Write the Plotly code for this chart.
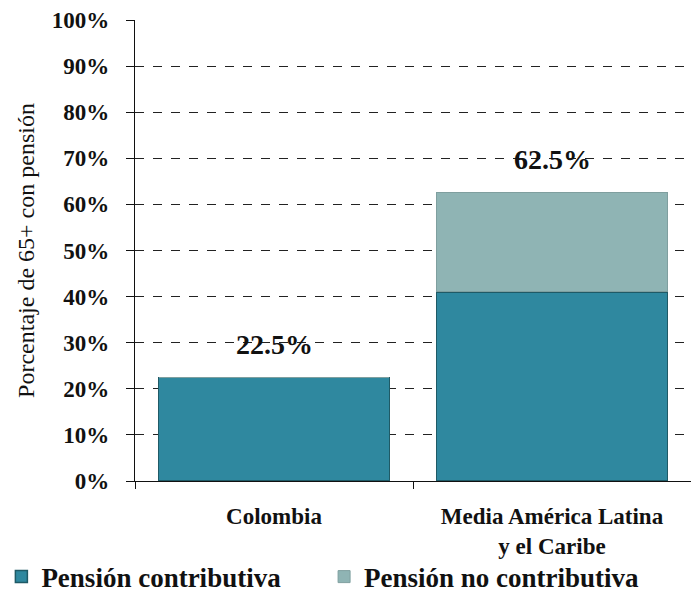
import plotly.graph_objects as go

categories = ["Colombia", "Media América Latina<br>y el Caribe"]
contributiva = [22.5, 41.0]
no_contributiva = [0.0, 21.5]
totals = [22.5, 62.5]
total_labels = ["22.5%", "62.5%"]
y_ticks = list(range(0, 101, 10))
y_tick_labels = [f"{v}%" for v in y_ticks]

serif = "Liberation Serif"
bold = dict(family=serif, color="#111111", weight=700)

fig = go.Figure()
fig.add_trace(go.Bar(
    x=categories, y=contributiva, name="Pensión contributiva",
    marker=dict(color="#2f889f", line=dict(color="#1f5a66", width=1.5)),
    width=0.83, legend="legend",
))
fig.add_trace(go.Bar(
    x=categories, y=no_contributiva, name="Pensión no contributiva",
    marker=dict(color="#8fb4b4", line=dict(color="#7f9f9f", width=1)),
    width=0.83, legend="legend2",
))

for cat, tot, lab in zip(categories, totals, total_labels):
    fig.add_annotation(
        x=cat, y=tot, text=lab, showarrow=False, yanchor="middle", yshift=33,
        font=dict(size=28, **bold),
    )

# one legend box per series so each entry sits at its own place along the bottom
legend_common = dict(
    orientation="h", xanchor="left", xref="container",
    y=0.035, yanchor="middle", yref="container",
    font=dict(size=27, **bold), itemwidth=30, bgcolor="rgba(0,0,0,0)",
)

fig.update_layout(
    barmode="stack",
    width=691, height=598,
    margin=dict(l=135, r=0, t=20, b=117, autoexpand=False),
    plot_bgcolor="white", paper_bgcolor="white",
    font=dict(family=serif, color="#111111"),
    legend=dict(x=0.002, **legend_common),
    legend2=dict(x=0.469, **legend_common),
    showlegend=True,
)

fig.update_yaxes(
    range=[0, 100], tickvals=y_ticks, ticktext=y_tick_labels,
    tickfont=dict(size=23, **bold),
    showgrid=True, gridcolor="#222222", griddash="dash", gridwidth=1,
    showline=True, linecolor="#111111", linewidth=1.2,
    ticks="outside", ticklen=8, tickcolor="#111111",
    ticklabelstandoff=12, automargin=False,
    zeroline=False,
    title=dict(text="Porcentaje de 65+ con pensión",
               font=dict(family=serif, size=24, color="#111111"), standoff=10),
)
fig.update_xaxes(
    range=[-0.5, 1.5],
    tickfont=dict(size=23, **bold),
    showline=True, linecolor="#111111", linewidth=1.2,
    ticks="outside", ticklen=7, tickcolor="#111111",
    tickson="boundaries", ticklabelstandoff=14, automargin=False,
)

fig.write_html("out.html")
